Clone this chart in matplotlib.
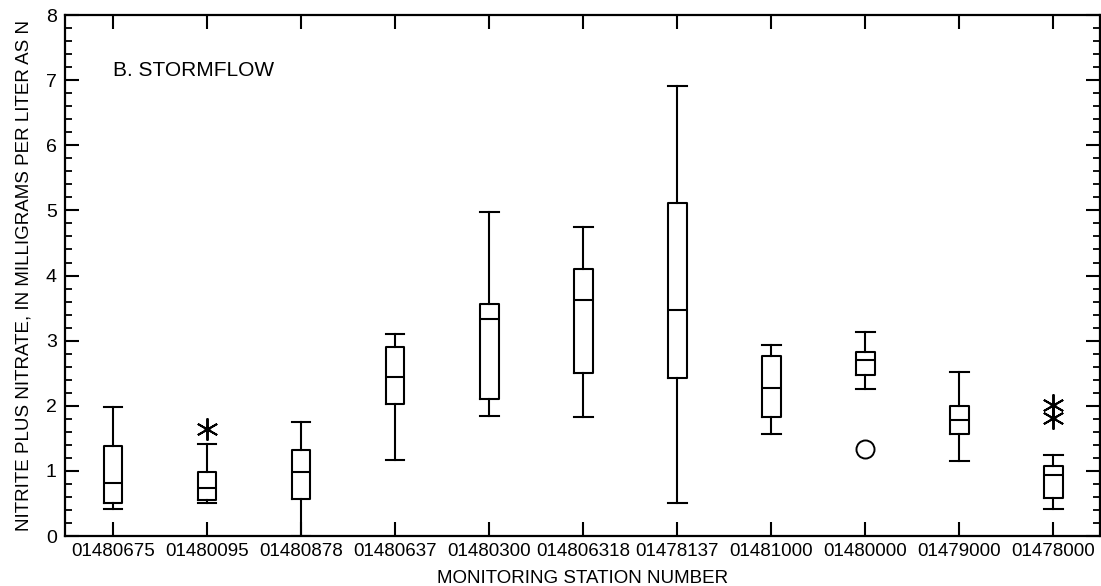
import matplotlib
matplotlib.use("Agg")
import matplotlib.pyplot as plt
from matplotlib.ticker import MultipleLocator

plt.rcParams["font.family"] = ["Liberation Sans", "DejaVu Sans"]

stations = ["01480675", "01480095", "01480878", "01480637", "01480300",
            "014806318", "01478137", "01481000", "01480000", "01479000",
            "01478000"]

# Boxplot statistics, nitrite plus nitrate (mg/L as N)
whisker_low = [0.42, 0.51, 0.00, 1.16, 1.85, 1.83, 0.51, 1.56, 2.26, 1.15, 0.41]
quart_low = [0.51, 0.56, 0.57, 2.03, 2.10, 2.50, 2.42, 1.82, 2.47, 1.57, 0.58]
medians = [0.81, 0.74, 0.98, 2.44, 3.33, 3.62, 3.47, 2.28, 2.70, 1.78, 0.94]
quart_high = [1.38, 0.98, 1.32, 2.91, 3.56, 4.10, 5.12, 2.76, 2.82, 2.00, 1.07]
whisker_high = [1.98, 1.42, 1.75, 3.10, 4.98, 4.74, 6.91, 2.94, 3.13, 2.52, 1.25]

# Outside values (asterisk) and far-out values (circle): (station index, value)
outside_values = [(1, 1.65), (10, 2.01), (10, 1.81)]
far_out_values = [(8, 1.34)]

BOX_WIDTH = 0.2
LINE_W = 1.5

fig = plt.figure(figsize=(11.01, 5.86), dpi=100)
ax = fig.add_axes([0.059, 0.0853, 0.9405, 0.889])

stats = []
for i, name in enumerate(stations):
    stats.append({
        "label": name,
        "whislo": whisker_low[i],
        "q1": quart_low[i],
        "med": medians[i],
        "q3": quart_high[i],
        "whishi": whisker_high[i],
        "fliers": [],
    })

positions = list(range(1, len(stations) + 1))
ax.bxp(
    stats,
    positions=positions,
    widths=BOX_WIDTH,
    showfliers=False,
    boxprops=dict(color="black", linewidth=LINE_W),
    medianprops=dict(color="black", linewidth=LINE_W),
    whiskerprops=dict(color="black", linewidth=LINE_W),
    capprops=dict(color="black", linewidth=LINE_W),
    capwidths=BOX_WIDTH,
)

for idx, val in outside_values:
    ax.plot(positions[idx], val, marker=(6, 2, 0), markersize=16,
            markeredgewidth=1.4, color="black", linestyle="none", zorder=4)
    ax.plot(positions[idx], val, marker="o", markersize=3.5,
            color="black", linestyle="none", zorder=5)

for idx, val in far_out_values:
    ax.plot(positions[idx], val, marker="o", markersize=13, markerfacecolor="white",
            markeredgecolor="black", markeredgewidth=1.4, linestyle="none", zorder=4)

ax.set_xlim(0.49, 11.5)
ax.set_ylim(0, 8)
ax.set_xticks(positions)
ax.set_xticklabels(stations)
ax.yaxis.set_major_locator(MultipleLocator(1))
ax.yaxis.set_minor_locator(MultipleLocator(0.2))

ax.tick_params(axis="x", which="major", direction="in", top=True, bottom=True,
               length=10, width=1.5, labelsize=13.5, pad=5)
ax.tick_params(axis="y", which="major", direction="in", left=True, right=True,
               length=10, width=1.5, labelsize=14, pad=6)
ax.tick_params(axis="y", which="minor", direction="in", left=True, right=True,
               length=5, width=1.3)

for spine in ax.spines.values():
    spine.set_linewidth(1.6)

ax.set_xlabel("MONITORING STATION NUMBER", fontsize=13.5, labelpad=7)
ax.set_ylabel("NITRITE PLUS NITRATE, IN MILLIGRAMS PER LITER AS N",
              fontsize=13.5)
ax.yaxis.set_label_coords(-0.031, 0.5)

ax.text(0.046, 0.894, "B. STORMFLOW", transform=ax.transAxes,
        fontsize=15, ha="left", va="center")

fig.savefig("out.png", dpi=100)
